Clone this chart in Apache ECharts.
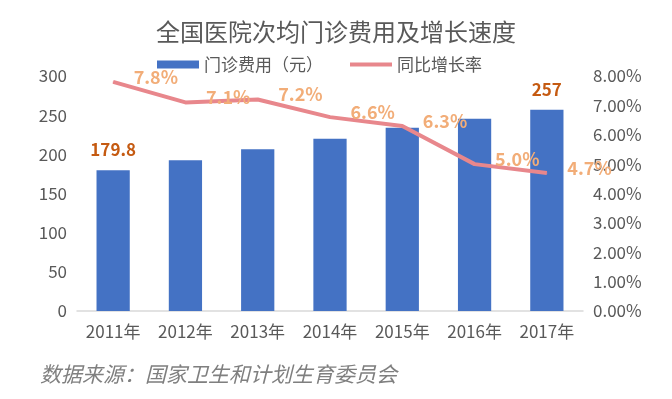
<!DOCTYPE html>
<html>
<head>
<meta charset="utf-8">
<script src="https://cdn.jsdelivr.net/npm/echarts@6/dist/echarts.min.js"></script>
<style>
  html, body { margin: 0; padding: 0; background: #fff; }
  #chart { width: 672px; height: 399px; }
</style>
</head>
<body>
<div id="chart"></div>
<script>
// data
const years = ["2011年", "2012年", "2013年", "2014年", "2015年", "2016年", "2017年"];
const costs = [179.8, 192.5, 206.4, 220.0, 233.9, 245.5, 257.0];
const growth = [7.8, 7.1, 7.2, 6.6, 6.3, 5.0, 4.7];
const leftTicks = [0, 50, 100, 150, 200, 250, 300];
const rightTicks = [0, 1, 2, 3, 4, 5, 6, 7, 8];

const font = "'Noto Sans CJK SC', 'Noto Sans', sans-serif";
const gray = "#595959";

const chart = echarts.init(document.getElementById("chart"));
chart.setOption({
  textStyle: { fontFamily: font },
  title: {
    text: "全国医院次均门诊费用及增长速度",
    left: "center",
    top: 15,
    textStyle: { fontSize: 24, fontWeight: "normal", color: gray, fontFamily: font },
  },
  legend: {
    top: 51,
    left: 152,
    itemGap: 27,
    itemWidth: 42,
    itemHeight: 8,
    textStyle: { fontSize: 17, color: gray, fontFamily: font },
    data: [
      { name: "门诊费用（元）", icon: "rect" },
      { name: "同比增长率", icon: "path://M0,0 H42 V4 H0 Z" },
    ],
  },
  grid: { left: 77, right: 89, top: 76, bottom: 88 },
  xAxis: {
    type: "category",
    data: years,
    axisTick: { show: false },
    axisLine: { lineStyle: { color: "#d9d9d9", width: 1.5 } },
    axisLabel: { fontSize: 17, color: gray, margin: 12, fontFamily: font },
  },
  yAxis: [
    {
      type: "value",
      min: leftTicks[0],
      max: leftTicks[leftTicks.length - 1],
      interval: 50,
      splitLine: { show: false },
      axisLabel: { fontSize: 17, color: gray, margin: 10, fontFamily: font },
    },
    {
      type: "value",
      min: rightTicks[0],
      max: rightTicks[rightTicks.length - 1],
      interval: 1,
      splitLine: { show: false },
      axisLabel: {
        fontSize: 17,
        color: gray,
        margin: 10,
        fontFamily: font,
        formatter: (v) => v.toFixed(2) + "%",
      },
    },
  ],
  series: [
    {
      name: "门诊费用（元）",
      type: "bar",
      data: costs,
      barWidth: "46%",
      itemStyle: { color: "#4472c4" },
      label: {
        show: true,
        position: "top",
        distance: 12,
        fontSize: 17,
        fontWeight: "bold",
        color: "#c55a11",
        formatter: (p) =>
          p.dataIndex === 0 || p.dataIndex === costs.length - 1 ? String(p.value) : "",
      },
    },
    {
      name: "同比增长率",
      type: "line",
      yAxisIndex: 1,
      data: growth,
      symbol: "circle",
      symbolSize: 1,
      showSymbol: true,
      itemStyle: { color: "#e8878c" },
      lineStyle: { color: "#e8878c", width: 4 },
      label: {
        show: true,
        position: "right",
        distance: 20,
        offset: [0, -5],
        fontSize: 18,
        fontWeight: "bold",
        color: "#f2ad78",
        formatter: (p) => p.value.toFixed(1) + "%",
      },
      z: 3,
    },
  ],
  graphic: [
    {
      type: "text",
      left: 40,
      top: 364,
      style: {
        text: "数据来源：国家卫生和计划生育委员会",
        fontSize: 21,
        fontStyle: "italic",
        fill: "#7f7f7f",
        fontFamily: font,
      },
    },
  ],
});
</script>
</body>
</html>
